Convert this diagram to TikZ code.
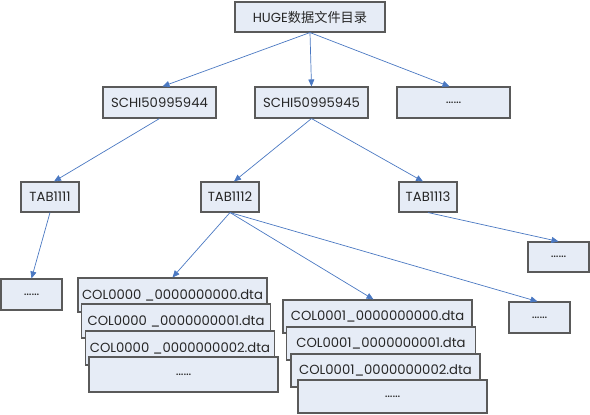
\documentclass[tikz,border=0pt]{standalone}
\usepackage{fontspec}
\setmainfont{Poppins}
\newfontfamily\cjk{Noto Sans CJK SC}
\usetikzlibrary{arrows.meta}
\definecolor{boxfill}{HTML}{E6ECF6}
\definecolor{boxline}{HTML}{5A5A5A}
\definecolor{arr}{HTML}{4A78C2}
\tikzset{
  box/.style={draw=boxline, line width=1.1pt, fill=boxfill, inner sep=0pt, font=\fontsize{13.2}{15}\selectfont, text=black!85},
  conn/.style={draw=arr, line width=0.7pt, -{Triangle[length=7pt,width=6pt]}},
}
\begin{document}
\begin{tikzpicture}[x=1pt,y=-1pt]
\useasboundingbox (0,0) rectangle (590,415);
\node[box, minimum width=150pt, minimum height=30pt] (top) at (310,17) {HUGE{\cjk 数据文件目录}};
\node[box, minimum width=113pt, minimum height=31pt] (s44) at (159.5,102.5) {SCHI50995944};
\node[box, minimum width=113pt, minimum height=31pt] (s45) at (311.5,102.5) {SCHI50995945};
\node[box, minimum width=113pt, minimum height=31pt] (sd) at (453.5,102.5) {……};
\node[box, minimum width=58pt, minimum height=30pt] (t1) at (50,197) {TAB1111};
\node[box, minimum width=58pt, minimum height=30pt] (t2) at (230,197) {TAB1112};
\node[box, minimum width=58pt, minimum height=30pt] (t3) at (428,197) {TAB1113};
\node[box, minimum width=61pt, minimum height=31pt] (d1) at (31.5,294.5) {……};
\node[box, minimum width=61pt, minimum height=31pt] (d2) at (539.5,317.5) {……};
\node[box, minimum width=61pt, minimum height=30pt] (d3) at (558.5,257) {……};
\node[box, minimum width=189pt, minimum height=34pt] (c0a) at (172.5,295) {COL0000 \_0000000000.dta};
\node[box, minimum width=189pt, minimum height=34pt] (c0b) at (176,321) {COL0000 \_0000000001.dta};
\node[box, minimum width=189pt, minimum height=34pt] (c0c) at (180,348) {COL0000 \_0000000002.dta};
\node[box, minimum width=189pt, minimum height=35pt] (c0d) at (183.5,374.5) {……};
\node[box, minimum width=189pt, minimum height=33pt] (c1a) at (377.5,316.5) {COL0001\_0000000000.dta};
\node[box, minimum width=189pt, minimum height=33pt] (c1b) at (381,343.5) {COL0001\_0000000001.dta};
\node[box, minimum width=189pt, minimum height=33pt] (c1c) at (385.5,370.5) {COL0001\_0000000002.dta};
\node[box, minimum width=189pt, minimum height=33pt] (c1d) at (392.5,396.5) {……};
\draw[conn] (top.south) -- ([xshift=3pt]s44.north);
\draw[conn] (top.south) -- (s45.north);
\draw[conn] (top.south) -- ([xshift=-4pt]sd.north);
\draw[conn] (s44.south) -- ([xshift=4pt]t1.north);
\draw[conn] (s45.south) -- ([xshift=4pt]t2.north);
\draw[conn] (s45.south) -- ([xshift=-5pt]t3.north);
\draw[conn] (t1.south) -- (d1.north);
\draw[conn] (t2.south) -- (c0a.north);
\draw[conn] (t2.south) -- ([xshift=-4pt]c1a.north);
\draw[conn] (t2.south) -- ([xshift=-2pt]d2.north);
\draw[conn] (t3.south) -- (d3.north);
\end{tikzpicture}
\end{document}
